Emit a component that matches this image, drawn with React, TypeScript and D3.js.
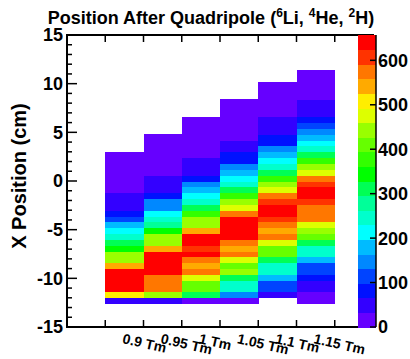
import React from "react";
import * as d3 from "d3";

// momentum settings, one histogram column each (x bins 1..6 of 8)
const momentumLabels = ["0.9 Tm", "0.95 Tm", "1 Tm", "1.05 Tm", "1.1 Tm", "1.15 Tm"];
const xBinCount = 8;

// y binning: 50 bins of 0.6 cm over [-15, 15]
const yMin = -15;
const yMax = 15;
const yBinWidth = 0.6;

// first filled y bin of each column, counts go upward from there
const firstYBin = [4, 4, 4, 4, 5, 4];
const counts090 = [48, 510, 640, 652, 648, 635, 545, 440, 450, 345, 310, 246, 214, 182, 115, 82, 50, 46, 40, 28, 22, 18, 14, 10, 7, 4];
const counts095 = [45, 445, 575, 580, 570, 640, 650, 645, 632, 540, 445, 440, 345, 280, 246, 214, 150, 145, 82, 55, 48, 40, 28, 22, 17, 13, 9, 6, 3];
const counts100 = [20, 310, 410, 412, 478, 575, 542, 578, 640, 608, 645, 638, 545, 445, 440, 378, 312, 246, 214, 181, 148, 82, 58, 50, 42, 30, 24, 19, 14, 10, 6, 3];
const counts105 = [22, 148, 250, 244, 312, 443, 411, 476, 575, 542, 578, 638, 645, 657, 642, 575, 476, 443, 378, 312, 246, 214, 181, 148, 85, 78, 55, 44, 30, 25, 20, 15, 11, 7, 3];
const counts110 = [45, 118, 112, 181, 246, 250, 312, 411, 405, 476, 575, 542, 578, 608, 640, 648, 610, 575, 476, 443, 378, 312, 246, 214, 181, 148, 80, 84, 58, 50, 40, 28, 22, 16, 11, 7, 3];
const counts115 = [15, 25, 45, 55, 82, 112, 118, 181, 246, 250, 312, 411, 443, 476, 570, 580, 575, 608, 642, 638, 608, 575, 476, 443, 378, 312, 246, 214, 181, 148, 115, 82, 60, 50, 40, 28, 20, 14, 8, 3];
const columnCounts = [counts090, counts095, counts100, counts105, counts110, counts115];

// 20 contour colours, low -> high
const paletteColors = [
  "#6600ff", "#3300ff", "#0011ff", "#0044ff", "#0088ff", "#00bbff", "#00ffff",
  "#00ffcc", "#00ff99", "#00ff55", "#00ff00", "#33ff00", "#66ff00", "#99ff00",
  "#ddff00", "#ffee00", "#ffaa00", "#ff7700", "#ff3300", "#ff0000",
];
const zTicks = [0, 100, 200, 300, 400, 500, 600];
const yMajorTicks = [-15, -10, -5, 0, 5, 10, 15];

const W = 410, H = 359;
const frame = { left: 67, right: 373, top: 35, bottom: 327 };
const pal = { left: 358, right: 376 };
const font = "'Liberation Sans', Arial, Helvetica, sans-serif";

export default function App() {
  const x = d3.scaleBand<number>()
    .domain(d3.range(xBinCount))
    .range([frame.left, frame.right])
    .padding(0);
  const y = d3.scaleLinear().domain([yMin, yMax]).range([frame.bottom, frame.top]);
  const zMax = d3.max(columnCounts.flat()) as number;
  const color = d3.scaleQuantize<string>().domain([0, zMax]).range(paletteColors);
  const z = d3.scaleLinear().domain([0, zMax]).range([frame.bottom, frame.top]);

  const cells = columnCounts.flatMap((col, i) =>
    col.map((v, j) => {
      const k = firstYBin[i] + j;
      const y0 = yMin + k * yBinWidth;
      const y1 = y0 + yBinWidth;
      return { key: `${i}-${k}`, x: x(i + 1)!, w: x.bandwidth(), top: y(y1), h: y(y0) - y(y1), fill: color(v) };
    })
  );

  const minorY = d3.range(yMin, yMax + 1, 1).filter(t => t % 5 !== 0);
  const xEdges = d3.range(1, xBinCount).map(i => x(i)!);
  const bandH = (frame.bottom - frame.top) / paletteColors.length;

  return (
    <svg width={W} height={H} style={{ position: "absolute", left: 0, top: 0, fontFamily: font }}>
      <rect width={W} height={H} fill="#fff" />
      <g shapeRendering="crispEdges">
        {cells.map(c => (
          <rect key={c.key} x={c.x} y={c.top} width={c.w + 0.5} height={c.h + 0.5} fill={c.fill} />
        ))}
      </g>

      {/* frame */}
      <rect x={frame.left} y={frame.top} width={frame.right - frame.left} height={frame.bottom - frame.top}
        fill="none" stroke="#000" strokeWidth={2} />
      <g stroke="#000" strokeWidth={1.5}>
        {yMajorTicks.map(t => (
          <line key={"ym" + t} x1={frame.left} x2={frame.left + 10} y1={y(t)} y2={y(t)} />
        ))}
        {minorY.map(t => (
          <line key={"yn" + t} x1={frame.left} x2={frame.left + 5} y1={y(t)} y2={y(t)} />
        ))}
        {xEdges.map((e, i) => (
          <g key={"xe" + i}>
            <line x1={e} x2={e} y1={frame.bottom} y2={frame.bottom - 7} />
            <line x1={e} x2={e} y1={frame.top} y2={frame.top + 7} />
          </g>
        ))}
      </g>

      {/* y tick labels */}
      {yMajorTicks.map(t => (
        <text key={"yl" + t} x={frame.left - 4} y={y(t)} dy="0.36em" textAnchor="end"
          fontSize={18} fontWeight="bold">{t}</text>
      ))}

      {/* x bin labels */}
      {momentumLabels.map((lab, i) => (
        <text key={lab} transform={`translate(${x(i + 1)! + x.bandwidth() / 2},${frame.bottom + 5}) rotate(13)`}
          dy="0.8em" fontSize={14} fontWeight="bold">{lab}</text>
      ))}

      {/* y title */}
      <text transform={`translate(26,176) rotate(-90)`} textAnchor="middle" fontSize={20} fontWeight="bold">
        X Position (cm)
      </text>

      {/* title */}
      <text x={211} y={24} textAnchor="middle" fontSize={18} fontWeight="bold">
        Position After Quadripole (
        <tspan fontSize={12} dy={-7}>6</tspan><tspan dy={7}>Li, </tspan>
        <tspan fontSize={12} dy={-7}>4</tspan><tspan dy={7}>He, </tspan>
        <tspan fontSize={12} dy={-7}>2</tspan><tspan dy={7}>H)</tspan>
      </text>

      {/* palette */}
      <g shapeRendering="crispEdges">
        {paletteColors.map((c, i) => (
          <rect key={c} x={pal.left} y={frame.bottom - (i + 1) * bandH} width={pal.right - pal.left}
            height={bandH + 0.5} fill={c} />
        ))}
      </g>
      <line x1={pal.right} x2={pal.right} y1={frame.top} y2={frame.bottom} stroke="#000" strokeWidth={1.5} />
      {zTicks.map(t => (
        <g key={"z" + t}>
          <line x1={pal.right - 6} x2={pal.right} y1={z(t)} y2={z(t)} stroke="#000" strokeWidth={1.5} />
          <text x={pal.right + 2} y={z(t)} dy="0.36em" fontSize={18} fontWeight="bold">{t}</text>
        </g>
      ))}
    </svg>
  );
}
